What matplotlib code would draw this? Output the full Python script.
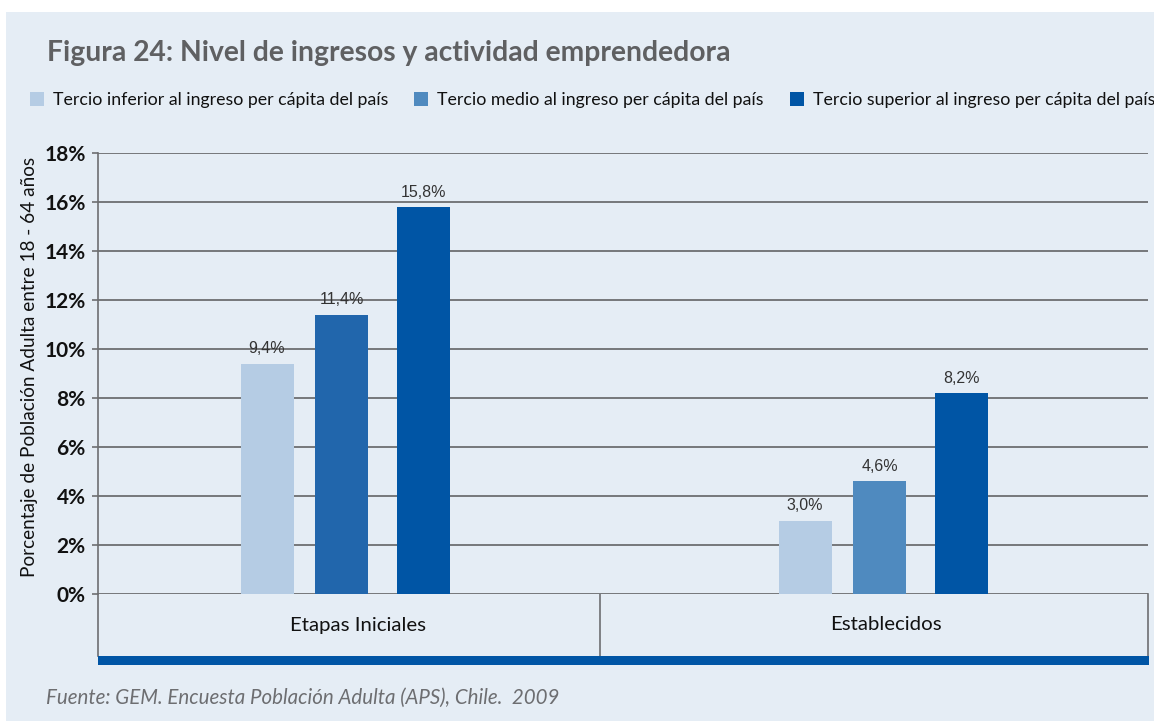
import matplotlib
matplotlib.use("Agg")
import matplotlib.pyplot as plt
from matplotlib.patches import Rectangle
import numpy as np

# ---- data ----
categories = ["Etapas Iniciales", "Establecidos"]
series_names = [
    "Tercio inferior al ingreso per cápita del país",
    "Tercio medio al ingreso per cápita del país",
    "Tercio superior al ingreso per cápita del país",
]
inferior = [9.4, 3.0]
medio = [11.4, 4.6]
superior = [15.8, 8.2]
y_ticks = [0, 2, 4, 6, 8, 10, 12, 14, 16, 18]
title = "Figura 24: Nivel de ingresos y actividad emprendedora"
ylabel = "Porcentaje de Población Adulta entre 18 - 64 años"
source = "Fuente: GEM. Encuesta Población Adulta (APS), Chile.  2009"

# ---- style ----
BG = "#E5EDF5"
legend_colors = ["#B5CCE4", "#4F8ABF", "#0055A5"]
bar_colors = [["#B5CCE4", "#2166AC", "#0055A5"],   # Etapas Iniciales
              ["#B5CCE4", "#4F8ABF", "#0055A5"]]   # Establecidos
GRID = "#6D6E71"
SANS = ["Lato", "DejaVu Sans"]

W, H = 1154, 721
fig = plt.figure(figsize=(W / 100, H / 100), dpi=100)
fig.patch.set_facecolor("white")
fig.patches.append(Rectangle((6 / W, 0), 1 - 6 / W, 1 - 12 / H,
                             transform=fig.transFigure, facecolor=BG,
                             edgecolor="none", zorder=-10))

def fx(px):
    return px / W

def fy(py):
    return 1 - py / H

# main axes
ax_l, ax_r, ax_t, ax_b = 98, 1148, 153, 594
ax = fig.add_axes([fx(ax_l), fy(ax_b), (ax_r - ax_l) / W, (ax_b - ax_t) / H])
ax.set_facecolor("none")
ax.set_xlim(0, 2)
ax.set_ylim(0, 18)

centers = np.array([0.49, 1.515])
offsets = [-0.168, -0.026, 0.13]
width = 0.101
all_series = [inferior, medio, superior]
for si, vals in enumerate(all_series):
    for ci, v in enumerate(vals):
        x = centers[ci] + offsets[si]
        ax.bar(x, v, width=width, color=bar_colors[ci][si], zorder=3)
        ax.text(x, v + 0.3, f"{v:.1f}%".replace(".", ","), ha="center",
                va="bottom", fontsize=11.5, color="#333333",
                family=["Liberation Sans", "DejaVu Sans"], zorder=4)

ax.set_yticks(y_ticks)
ax.set_yticklabels([f"{t}%" for t in y_ticks], fontsize=15, fontweight="bold",
                   family=SANS, color="#111111")
ax.tick_params(axis="y", length=4, width=1.2, color=GRID, pad=5)
ax.set_xticks([])
ax.grid(axis="y", color=GRID, linewidth=1.3, zorder=1)
for s in ["top", "right", "bottom"]:
    ax.spines[s].set_visible(False)
ax.spines["left"].set_color(GRID)
ax.spines["left"].set_linewidth(1.2)

# category band
band_b = 656
ax2 = fig.add_axes([fx(ax_l), fy(band_b), (ax_r - ax_l) / W, (band_b - ax_b) / H])
ax2.set_facecolor("none")
ax2.set_xlim(0, 2)
ax2.set_ylim(0, 1)
ax2.set_xticks([])
ax2.set_yticks([])
for s in ["top", "bottom"]:
    ax2.spines[s].set_visible(False)
for s in ["left", "right"]:
    ax2.spines[s].set_color(GRID)
    ax2.spines[s].set_linewidth(1.2)
ax2.axvline(0.957, color=GRID, linewidth=1.2)
label_x = [0.495, 1.5]
for lx, cat in zip(label_x, categories):
    ax2.text(lx, 0.5, cat, ha="center", va="center", fontsize=14.7,
             family=SANS, color="#111111")

# blue strip
fig.patches.append(Rectangle((fx(ax_l), fy(665)), (ax_r + 1 - ax_l) / W, 9 / H,
                             transform=fig.transFigure, facecolor="#0055A5",
                             edgecolor="none", zorder=2))

# title
fig.text(fx(47), fy(53), title, ha="left", va="center", fontsize=20.3,
         fontweight="bold", family=SANS, color="#5F6062")

# legend
handles = [Rectangle((0, 0), 1, 1, facecolor=c, edgecolor="none") for c in legend_colors]
fig.legend(handles, series_names, loc="center left",
           bbox_to_anchor=(fx(14), fy(100)), ncol=3, frameon=False,
           prop={"family": SANS, "size": 12.8}, handlelength=0.8,
           handleheight=0.8, handletextpad=0.5, columnspacing=1.45,
           labelcolor="#111111")

# y label
fig.text(fx(30), fy(367), ylabel, rotation=90, ha="center", va="center",
         fontsize=13.7, family=SANS, color="#111111")

# source
fig.text(fx(46), fy(698), source, ha="left", va="center", fontsize=14.8,
         style="italic", family=SANS, color="#6D6E71")

fig.savefig("out.png", dpi=100, facecolor=fig.get_facecolor())
